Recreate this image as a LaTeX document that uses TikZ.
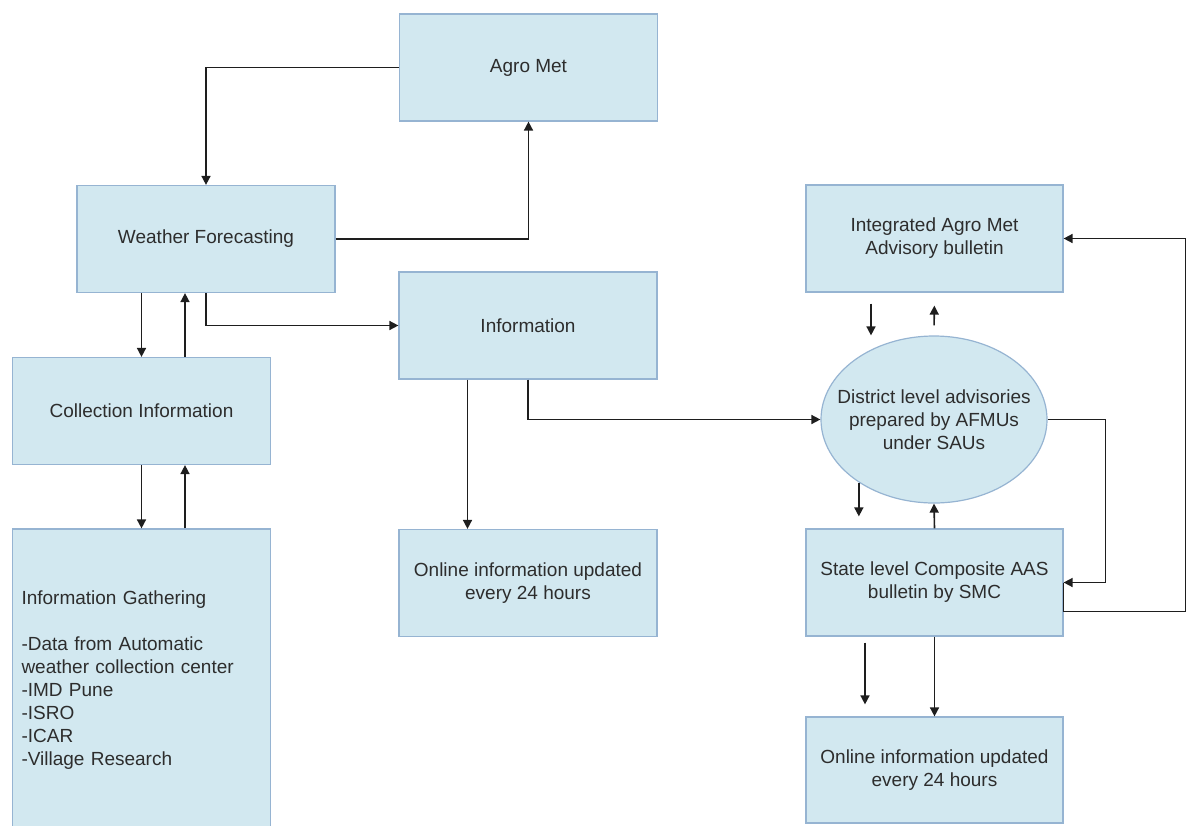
\documentclass[tikz,border=0pt]{standalone}
\usepackage{fontspec}
\setmainfont{Liberation Sans}
\usetikzlibrary{arrows.meta,shapes.geometric,calc}
\definecolor{boxfill}{RGB}{210,232,240}
\definecolor{boxline}{RGB}{150,180,210}
\definecolor{inkline}{RGB}{30,30,30}
\definecolor{inktext}{RGB}{45,45,45}
\begin{document}
\begin{tikzpicture}[x=1pt,y=-1pt,
  txt/.style={text=inktext, align=center, font=\fontsize{19}{23}\selectfont},
  box/.style={txt, draw=boxline, line width=1.2pt, fill=boxfill,
    minimum width=258pt, minimum height=107pt, inner sep=2pt},
  ellbox/.style={ellipse, draw=boxline, line width=1.2pt, fill=boxfill,
    minimum width=226pt, minimum height=167pt, inner sep=0pt},
  arr/.style={draw=inkline, line width=1.6pt, -{Triangle[length=9pt,width=9pt]}}]

\useasboundingbox (0,0) rectangle (1186,825);

% boxes of the left and middle columns
\node[box] (agro) at (528.5,67.5) {Agro Met};
\node[box] (wf) at (206,239) {Weather Forecasting};
\node[box] (info) at (528,325.5) {Information};
\node[box] (coll) at (141.5,411) {Collection Information};
\node[box, align=left, text width=240pt, inner xsep=9pt, minimum height=302pt]
  (ig) at (141.5,680) {Information Gathering\\[23pt]
  -Data from Automatic\\weather collection center\\-IMD Pune\\-ISRO\\-ICAR\\-Village Research};
\node[box] (online1) at (528,583) {Online information updated\\every 24 hours};

% boxes of the right column
\node[box, minimum width=257pt] (integ) at (934.5,238.5) {Integrated Agro Met\\Advisory bulletin};
\node[ellbox] (dist) at (934,419.5) {};
\node[txt] at (dist.center) {District level advisories\\prepared by AFMUs\\under SAUs};
\node[box, minimum width=257pt] (state) at (934.5,582.5) {State level Composite AAS\\bulletin by SMC};
\node[box, minimum width=257pt, minimum height=106pt] (online2) at (934.5,770) {Online information updated\\every 24 hours};

% connectors, left part
\draw[arr] (agro.west) -| (wf.north);
\draw[arr] (wf.east) -| (agro.south);
\draw[arr] (wf.south) |- (info.west);
\draw[arr] (coll.north |- wf.south) -- (coll.north);
\draw[arr] ($(coll.north)+(43.5,0)$) -- ($(coll.north |- wf.south)+(43.5,0)$);
\draw[arr] (coll.south) -- (coll.south |- ig.north);
\draw[arr] ($(ig.north)+(43.5,0)$) -- ($(ig.north |- coll.south)+(43.5,0)$);
\draw[arr] ($(info.south)+(-60.5,0)$) -- ($(online1.north)+(-60.5,0)$);
\draw[arr] (info.south) |- (dist.west);

% connectors, right part
\draw[arr, shorten <=11pt] ($(integ.south)+(-63.5,0)$) -- ($(dist.north)+(-63,0)$);
\draw[arr, shorten <=10pt, shorten >=13pt] (dist.north) -- (integ.south);
\draw[arr, shorten >=12pt] (dist.220) -- (dist.220 |- state.north);
\draw[arr] (state.north) -- (dist.south);
\draw[arr] (dist.east) -- ++(58,0) |- (state.east);
\draw[arr] (state.east) -- ++(0,29) -- ++(122.2,0) |- (integ.east);
\draw[arr, shorten <=6pt, shorten >=12pt] ($(state.south)+(-69.5,0)$) -- ($(online2.north)+(-69.5,0)$);
\draw[arr] (state.south) -- (online2.north);
\end{tikzpicture}
\end{document}
